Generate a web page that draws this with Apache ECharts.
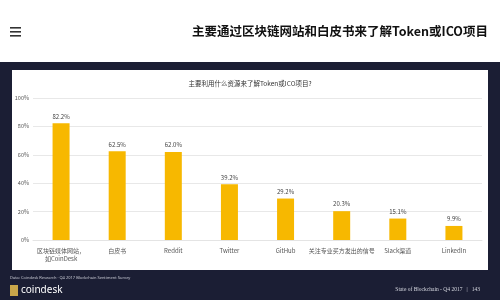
<!DOCTYPE html>
<html>
<head>
<meta charset="utf-8">
<script src="https://cdn.jsdelivr.net/npm/echarts@6/dist/echarts.min.js"></script>
<style>html,body{margin:0;padding:0;background:#fff}#c{width:500px;height:300px}</style>
</head>
<body>
<div id="c"></div>
<script>
var categories = ['区块链媒体网站，\n如CoinDesk', '白皮书', 'Reddit', 'Twitter', 'GitHub', '关注专业买方发出的信号', 'Slack渠道', 'LinkedIn'];
var values = [82.2, 62.5, 62.0, 39.2, 29.2, 20.3, 15.1, 9.9];
var yTicks = [0, 20, 40, 60, 80, 100];

var CJK = '"Noto Sans CJK SC", "Noto Sans", sans-serif';
var navy = '#1b1e34';
var chart = echarts.init(document.getElementById('c'), null, {renderer: 'canvas'});
chart.setOption({
  backgroundColor: '#ffffff',
  animation: false,
  textStyle: {fontFamily: CJK},
  graphic: [
    {type: 'rect', z: -20, silent: true, shape: {x: 0, y: 62, width: 500, height: 238}, style: {fill: navy}},
    {type: 'rect', z: -19, silent: true, shape: {x: 12, y: 70, width: 476, height: 200}, style: {fill: '#ffffff'}},
    {type: 'rect', z: -18, silent: true, shape: {x: 10, y: 27, width: 11, height: 1.6}, style: {fill: '#333'}},
    {type: 'rect', z: -18, silent: true, shape: {x: 10, y: 31, width: 11, height: 1.6}, style: {fill: '#333'}},
    {type: 'rect', z: -18, silent: true, shape: {x: 10, y: 35, width: 11, height: 1.6}, style: {fill: '#333'}},
    {type: 'text', z: 10, left: null, style: {x: 488, y: 31, text: '主要通过区块链网站和白皮书来了解Token或ICO项目', align: 'right', verticalAlign: 'middle', font: 'bold 12.5px "Noto Sans CJK SC", sans-serif', fill: '#111'}},
    {type: 'text', z: 10, style: {x: 250, y: 84, text: '主要利用什么资源来了解Token或ICO项目?', align: 'center', verticalAlign: 'middle', font: '6.5px "Noto Sans CJK SC", sans-serif', fill: '#333'}},
    {type: 'text', z: 10, style: {x: 10, y: 278, text: 'Data: Coindesk Research · Q4 2017 Blockchain Sentiment Survey', align: 'left', verticalAlign: 'middle', font: '4px "Noto Sans", sans-serif', fill: '#c8cad4'}},
    {type: 'rect', z: 10, shape: {x: 10, y: 285, width: 8, height: 11}, style: {fill: '#c9a64a'}},
    {type: 'text', z: 10, style: {x: 21, y: 290.5, text: 'coindesk', align: 'left', verticalAlign: 'middle', font: '10px "Noto Sans", sans-serif', fill: '#ffffff'}},
    {type: 'text', z: 10, style: {x: 480, y: 290, text: 'State of Blockchain - Q4 2017   |   143', align: 'right', verticalAlign: 'middle', font: '5.5px "Liberation Serif", serif', fill: '#d8dae2'}}
  ],
  grid: {left: 33, right: 18, top: 98, bottom: 60, containLabel: false},
  xAxis: {
    type: 'category',
    data: categories,
    axisLine: {show: true, lineStyle: {color: '#e4e4e4'}},
    axisTick: {show: false},
    axisLabel: {interval: 0, fontSize: 6, color: '#555', margin: 7, lineHeight: 8, fontFamily: CJK}
  },
  yAxis: {
    type: 'value',
    min: 0, max: 100, interval: 20,
    axisLine: {show: false},
    axisTick: {show: false},
    axisLabel: {fontSize: 5.5, color: '#555', margin: 4, formatter: function (v) { return yTicks.indexOf(v) >= 0 ? v + '%' : ''; }},
    splitLine: {lineStyle: {color: '#e8e8e8', width: 1}}
  },
  series: [{
    type: 'bar',
    data: values,
    barWidth: 17,
    itemStyle: {color: '#f7b800'},
    label: {show: true, position: 'top', distance: 4, fontSize: 6, color: '#444', formatter: function (p) { return p.value.toFixed(1) + '%'; }}
  }]
});
</script>
</body>
</html>
